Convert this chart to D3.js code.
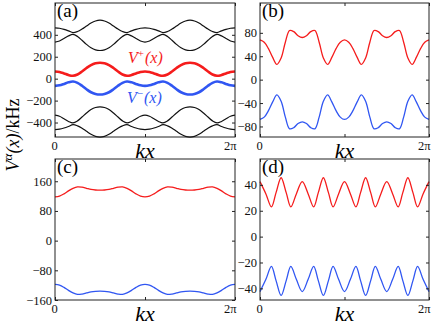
<!DOCTYPE html>
<html>
<head>
<meta charset="utf-8">
<script src="https://cdn.jsdelivr.net/npm/d3@7"></script>
<style>
  body { margin: 0; background: #fff; }
  svg { display: block; font-family: "Liberation Serif", "Times New Roman", serif; }
</style>
</head>
<body>
<script>
// sample positions along kx, in units of pi
const xGrid = [0, 0.05, 0.1, 0.15, 0.2, 0.25, 0.3, 0.35, 0.4, 0.45, 0.5, 0.55, 0.6, 0.65, 0.7, 0.75, 0.8, 0.85, 0.9, 0.95,
  1, 1.05, 1.1, 1.15, 1.2, 1.25, 1.3, 1.35, 1.4, 1.45, 1.5, 1.55, 1.6, 1.65, 1.7, 1.75, 1.8, 1.85, 1.9, 1.95, 2]
const xGridD = [0, 0.07, 0.135, 0.19, 0.25, 0.31, 0.365, 0.43, 0.5, 0.57, 0.635, 0.69, 0.75, 0.81, 0.865, 0.93,
  1, 1.07, 1.135, 1.19, 1.25, 1.31, 1.365, 1.43, 1.5, 1.57, 1.635, 1.69, 1.75, 1.81, 1.865, 1.93, 2]

// (a) all six bands, kHz
const aBand1 = [464, 460, 450, 436, 420, 430, 452, 480, 507, 526, 533, 526, 507, 480, 452, 430, 420, 436, 450, 460,
  464, 460, 450, 436, 420, 430, 452, 480, 507, 526, 533, 526, 507, 480, 452, 430, 420, 436, 450, 460, 464]
const aBand2 = [333, 343, 366, 390, 403, 385, 350, 313, 282, 263, 257, 263, 282, 313, 350, 385, 403, 390, 366, 343,
  333, 343, 366, 390, 403, 385, 350, 313, 282, 263, 257, 263, 282, 313, 350, 385, 403, 390, 366, 343, 333]
const aPlus = [66, 61, 48, 33, 26, 38, 65, 97, 124, 140, 145, 140, 124, 97, 65, 38, 26, 33, 48, 61,
  66, 61, 48, 33, 26, 38, 65, 97, 124, 140, 145, 140, 124, 97, 65, 38, 26, 33, 48, 61, 66]
const aMinus = [-66, -61, -48, -33, -26, -38, -65, -97, -124, -140, -145, -140, -124, -97, -65, -38, -26, -33, -48, -61,
  -66, -61, -48, -33, -26, -38, -65, -97, -124, -140, -145, -140, -124, -97, -65, -38, -26, -33, -48, -61, -66]
const aBand5 = [-333, -343, -366, -390, -403, -385, -350, -313, -282, -263, -257, -263, -282, -313, -350, -385, -403, -390, -366, -343,
  -333, -343, -366, -390, -403, -385, -350, -313, -282, -263, -257, -263, -282, -313, -350, -385, -403, -390, -366, -343, -333]
const aBand6 = [-464, -460, -450, -436, -420, -430, -452, -480, -507, -526, -533, -526, -507, -480, -452, -430, -420, -436, -450, -460,
  -464, -460, -450, -436, -420, -430, -452, -480, -507, -526, -533, -526, -507, -480, -452, -430, -420, -436, -450, -460, -464]

// (b)
const bPlus = [68, 64, 53, 38, 26, 37, 64, 84, 82, 75, 72, 75, 82, 84, 64, 37, 26, 38, 53, 64,
  68, 64, 53, 38, 26, 37, 64, 84, 82, 75, 72, 75, 82, 84, 64, 37, 26, 38, 53, 64, 68]
const bMinus = [-68, -64, -53, -38, -26, -37, -64, -84, -82, -75, -72, -75, -82, -84, -64, -37, -26, -38, -53, -64,
  -68, -64, -53, -38, -26, -37, -64, -84, -82, -75, -72, -75, -82, -84, -64, -37, -26, -38, -53, -64, -68]

// (c)
const cPlus = [118, 120, 126, 134, 141, 145, 144, 141, 138, 136.5, 136, 136.5, 138, 141, 144, 145, 141, 134, 126, 120,
  118, 120, 126, 134, 141, 145, 144, 141, 138, 136.5, 136, 136.5, 138, 141, 144, 145, 141, 134, 126, 120, 118]
const cMinus = [-118, -120, -126, -134, -141, -145, -144, -141, -138, -136.5, -136, -136.5, -138, -141, -144, -145, -141, -134, -126, -120,
  -118, -120, -126, -134, -141, -145, -144, -141, -138, -136.5, -136, -136.5, -138, -141, -144, -145, -141, -134, -126, -120, -118]

// (d)
const dPlus = [42.5, 33, 23, 34, 45.5, 34, 23, 33, 42.5, 33, 23, 34, 45.5, 34, 23, 33,
  42.5, 33, 23, 34, 45.5, 34, 23, 33, 42.5, 33, 23, 34, 45.5, 34, 23, 33, 42.5]
const dMinus = [-42.5, -33, -23, -34, -45.5, -34, -23, -33, -42.5, -33, -23, -34, -45.5, -34, -23, -33,
  -42.5, -33, -23, -34, -45.5, -34, -23, -33, -42.5, -33, -23, -34, -45.5, -34, -23, -33, -42.5]

// tick values
const xTicks = [0, 1, 2]
const xTickLabels = ['0', '', '2π']
const aTicks = [-400, -200, 0, 200, 400]
const bTicks = [-80, -40, 0, 40, 80]
const cTicks = [-160, -80, 0, 80, 160]
const dTicks = [-40, -20, 0, 20, 40]

const RED = '#f51c1c'
const BLUE = '#3056f2'
const BLACK = '#111'

const panels = [
  { name: '(a)', left: 55, right: 235, top: 3, bottom: 137, yDomain: [-532, 690], yTicks: aTicks,
    series: [
      { x: xGrid, y: aBand1, color: BLACK, width: 1.2 },
      { x: xGrid, y: aBand2, color: BLACK, width: 1.2 },
      { x: xGrid, y: aPlus, color: RED, width: 2.6 },
      { x: xGrid, y: aMinus, color: BLUE, width: 2.6 },
      { x: xGrid, y: aBand5, color: BLACK, width: 1.2 },
      { x: xGrid, y: aBand6, color: BLACK, width: 1.2 }
    ] },
  { name: '(b)', left: 260, right: 429, top: 3, bottom: 137, yDomain: [-98, 131], yTicks: bTicks,
    series: [
      { x: xGrid, y: bPlus, color: RED, width: 1.3 },
      { x: xGrid, y: bMinus, color: BLUE, width: 1.3 }
    ] },
  { name: '(c)', left: 55, right: 235, top: 159, bottom: 300, yDomain: [-160, 220], yTicks: cTicks,
    series: [
      { x: xGrid, y: cPlus, color: RED, width: 1.3 },
      { x: xGrid, y: cMinus, color: BLUE, width: 1.3 }
    ] },
  { name: '(d)', left: 260, right: 429, top: 159, bottom: 300, yDomain: [-49, 60], yTicks: dTicks,
    series: [
      { x: xGridD, y: dPlus, color: RED, width: 1.3 },
      { x: xGridD, y: dMinus, color: BLUE, width: 1.3 }
    ] }
]

const svg = d3.select('body')
  .append('svg')
  .attr('width', 436)
  .attr('height', 328)

panels.forEach(p => drawPanel(p))

function drawPanel(p) {
  const x = d3.scaleLinear().domain([0, 2]).range([p.left, p.right])
  const y = d3.scaleLinear().domain(p.yDomain).range([p.bottom, p.top])
  const g = svg.append('g')

  const line = d3.line()
    .x(d => x(d[0]))
    .y(d => y(d[1]))
    .curve(d3.curveCatmullRom)

  p.series.forEach(s => {
    g.append('path')
      .datum(d3.zip(s.x, s.y))
      .attr('d', line)
      .attr('fill', 'none')
      .attr('stroke', s.color)
      .attr('stroke-width', s.width)
      .attr('stroke-linejoin', 'round')
  })

  // y axis, ticks pointing inward
  const yAxis = g.append('g')
    .attr('transform', `translate(${p.left},0)`)
    .call(d3.axisLeft(y).tickValues(p.yTicks).tickSize(-3).tickPadding(3))
  g.append('g')
    .attr('transform', `translate(${p.right},0)`)
    .call(d3.axisRight(y).tickValues(p.yTicks).tickSize(-3).tickFormat(''))

  const xAxis = g.append('g')
    .attr('transform', `translate(0,${p.bottom})`)
    .call(d3.axisBottom(x).tickValues(xTicks).tickSize(-3).tickPadding(4).tickFormat((d, i) => xTickLabels[i]))
  g.append('g')
    .attr('transform', `translate(0,${p.top})`)
    .call(d3.axisTop(x).tickValues(xTicks).tickSize(-3).tickFormat(''))

  g.selectAll('.domain').remove()
  g.selectAll('.tick line').attr('stroke', '#222')
  g.selectAll('.tick text')
    .attr('fill', '#111')
    .style('font-size', '12.5px')
    .style('font-family', '"Liberation Serif", serif')
  xAxis.selectAll('.tick text')
    .filter((d, i) => i === 0).attr('dx', -1)
  xAxis.selectAll('.tick text')
    .filter((d, i) => i === 2).attr('text-anchor', 'end').attr('dx', 1)

  g.append('rect')
    .attr('x', p.left)
    .attr('y', p.top)
    .attr('width', p.right - p.left)
    .attr('height', p.bottom - p.top)
    .attr('fill', 'none')
    .attr('stroke', '#222')
    .attr('stroke-width', 1)

  g.append('text')
    .attr('x', p.left + 2)
    .attr('y', p.top + 14)
    .style('font-size', '19px')
    .text(p.name)

  g.append('text')
    .attr('x', (p.left + p.right) / 2)
    .attr('y', p.bottom + 21)
    .attr('text-anchor', 'middle')
    .style('font-size', '22px')
    .style('font-style', 'italic')
    .text('kx')
}

// curve labels in (a)
function curveLabel(xp, yp, sign, color) {
  const t = svg.append('text')
    .attr('x', xp)
    .attr('y', yp)
    .attr('fill', color)
    .style('font-size', '16px')
    .style('font-style', 'italic')
  t.append('tspan').text('V')
  t.append('tspan').attr('dy', -6).style('font-size', '11px').style('font-style', 'normal').text(sign)
  t.append('tspan').attr('dy', 6).attr('dx', 1).text('(x)')
}
curveLabel(128, 63, '+', RED)
curveLabel(127, 103, '−', BLUE)

// shared y label
const yl = svg.append('text')
  .attr('transform', 'translate(19,135) rotate(-90)')
  .attr('text-anchor', 'middle')
  .style('font-size', '18px')
yl.append('tspan').style('font-style', 'italic').text('V')
yl.append('tspan').attr('dy', -7).style('font-size', '13px').style('font-style', 'italic').text('α')
yl.append('tspan').attr('dy', 7).style('font-style', 'italic').text('(x)')
yl.append('tspan').text('/kHz')
</script>
</body>
</html>
